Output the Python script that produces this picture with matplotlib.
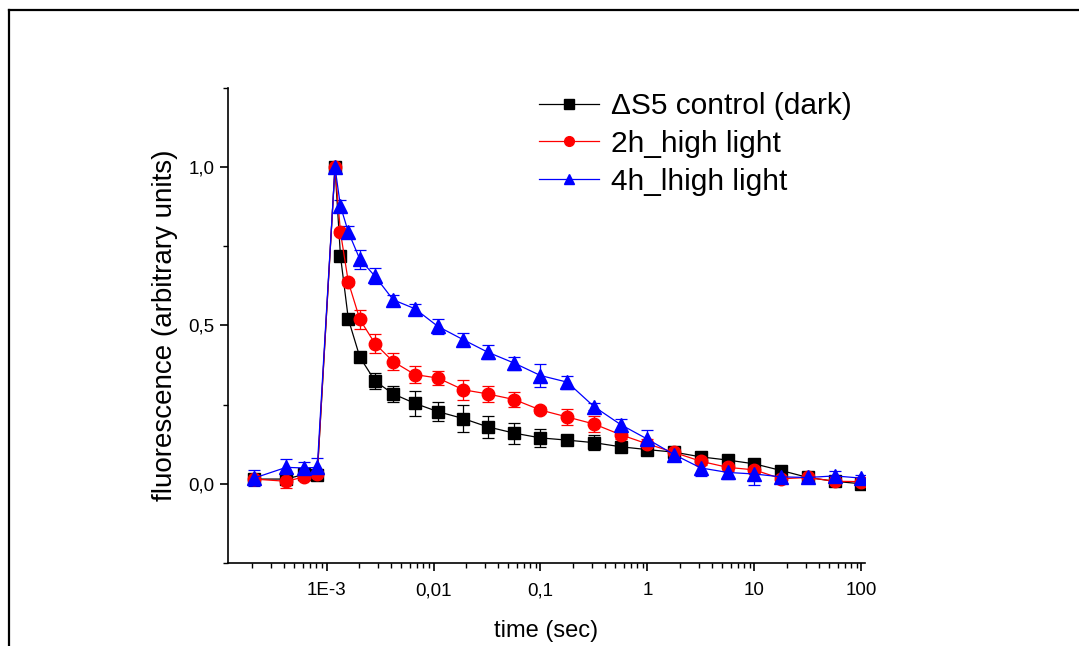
import matplotlib
matplotlib.use("Agg")
import matplotlib.pyplot as plt
from matplotlib.lines import Line2D
from matplotlib.ticker import LogLocator, NullFormatter

plt.rcParams['font.family'] = ['Liberation Sans', 'DejaVu Sans']

# time points (sec)
time_sec = [2.1e-4, 4.2e-4, 6.2e-4, 8.2e-4, 1.2e-3, 1.35e-3, 1.6e-3, 2.05e-3,
            2.85e-3, 4.2e-3, 6.7e-3, 0.011, 0.019, 0.032, 0.057, 0.1, 0.178,
            0.316, 0.562, 1.0, 1.78, 3.16, 5.62, 10, 17.8, 31.6, 56.2, 100]

control_dark = [0.015, 0.015, 0.03, 0.028, 1.0, 0.72, 0.52, 0.40, 0.324, 0.284,
                0.254, 0.228, 0.206, 0.18, 0.16, 0.145, 0.138, 0.13, 0.117, 0.108,
                0.10, 0.085, 0.075, 0.063, 0.042, 0.02, 0.008, 0.0]
control_err = [0.01, 0.015, 0.01, 0.01, 0.01, 0.01, 0.01, 0.015, 0.025, 0.025,
               0.04, 0.03, 0.043, 0.034, 0.033, 0.029, 0.008, 0.024, 0.01, 0.01,
               0.01, 0.01, 0.008, 0.008, 0.008, 0.008, 0.008, 0.008]

hl_2h = [0.015, 0.008, 0.022, 0.031, 1.0, 0.795, 0.637, 0.519, 0.442, 0.386,
         0.345, 0.334, 0.297, 0.284, 0.266, 0.233, 0.211, 0.189, 0.155, 0.126,
         0.099, 0.071, 0.052, 0.044, 0.016, 0.02, 0.008, 0.007]
hl_2h_err = [0.01, 0.02, 0.01, 0.01, 0.01, 0.01, 0.01, 0.03, 0.03, 0.027,
             0.027, 0.021, 0.031, 0.025, 0.023, 0.01, 0.026, 0.024, 0.015, 0.015,
             0.01, 0.01, 0.01, 0.01, 0.01, 0.01, 0.01, 0.01]

hl_4h = [0.018, 0.052, 0.050, 0.052, 1.0, 0.877, 0.795, 0.709, 0.655, 0.581,
         0.553, 0.497, 0.455, 0.416, 0.381, 0.342, 0.321, 0.244, 0.187, 0.141,
         0.092, 0.050, 0.036, 0.031, 0.022, 0.02, 0.025, 0.018]
hl_4h_err = [0.026, 0.025, 0.02, 0.03, 0.01, 0.02, 0.02, 0.03, 0.025, 0.015,
             0.016, 0.023, 0.021, 0.021, 0.021, 0.035, 0.02, 0.01, 0.018, 0.03,
             0.015, 0.025, 0.02, 0.035, 0.01, 0.01, 0.015, 0.01]

x_ticks = [1e-3, 1e-2, 1e-1, 1, 10, 100]
x_tick_labels = ['1E-3', '0,01', '0,1', '1', '10', '100']
y_ticks = [0.0, 0.5, 1.0]
y_tick_labels = ['0,0', '0,5', '1,0']

fig = plt.figure(figsize=(10.79, 6.46), dpi=100)
ax = fig.add_axes([0.2113, 0.1285, 0.5904, 0.7353])

series = [
    (control_dark, control_err, 'black', 's', 8.5, '\u0394S5 control (dark)'),
    (hl_2h, hl_2h_err, 'red', 'o', 9, '2h_high light'),
    (hl_4h, hl_4h_err, 'blue', '^', 9.5, '4h_lhigh light'),
]
handles = []
for vals, errs, col, mk, ms, lab in series:
    ax.errorbar(time_sec, vals, yerr=errs, color=col, marker=mk, markersize=ms,
                linewidth=0.9, elinewidth=0.9, capsize=4, capthick=0.9)
    handles.append(Line2D([], [], color=col, marker=mk, markersize=7,
                          linewidth=0.9, label=lab))

ax.set_xscale('log')
ax.set_xlim(1.2e-4, 108)
ax.set_ylim(-0.25, 1.25)
ax.set_xticks(x_ticks)
ax.set_xticklabels(x_tick_labels)
ax.xaxis.set_minor_locator(LogLocator(base=10, subs=range(2, 10), numticks=20))
ax.xaxis.set_minor_formatter(NullFormatter())
ax.set_yticks(y_ticks)
ax.set_yticklabels(y_tick_labels)
ax.set_yticks([-0.25, 0.25, 0.75, 1.25], minor=True)

for s in ['top', 'right']:
    ax.spines[s].set_visible(False)
for s in ['left', 'bottom']:
    ax.spines[s].set_linewidth(1.2)
ax.tick_params(which='major', length=6, width=1.2, labelsize=13.5)
ax.tick_params(axis='x', which='major', pad=8)
ax.tick_params(which='minor', length=3.5, width=1.0)

ax.set_xlabel('time (sec)', fontsize=17, labelpad=15)
ax.set_ylabel('fluorescence (arbitrary units)', fontsize=20, labelpad=8)

ax.legend(handles=handles, loc='upper left', bbox_to_anchor=(0.465, 1.023),
          frameon=False, fontsize=21.5, handlelength=2.0, handletextpad=0.4,
          labelspacing=0.33, borderpad=0)

# outer frame lines
fig.add_artist(Line2D([9 / 1079, 9 / 1079], [0, 1 - 10 / 646],
                      transform=fig.transFigure, color='black', linewidth=1.6))
fig.add_artist(Line2D([9 / 1079, 1], [1 - 10 / 646, 1 - 10 / 646],
                      transform=fig.transFigure, color='black', linewidth=1.6))

fig.savefig('out.png', dpi=100)
